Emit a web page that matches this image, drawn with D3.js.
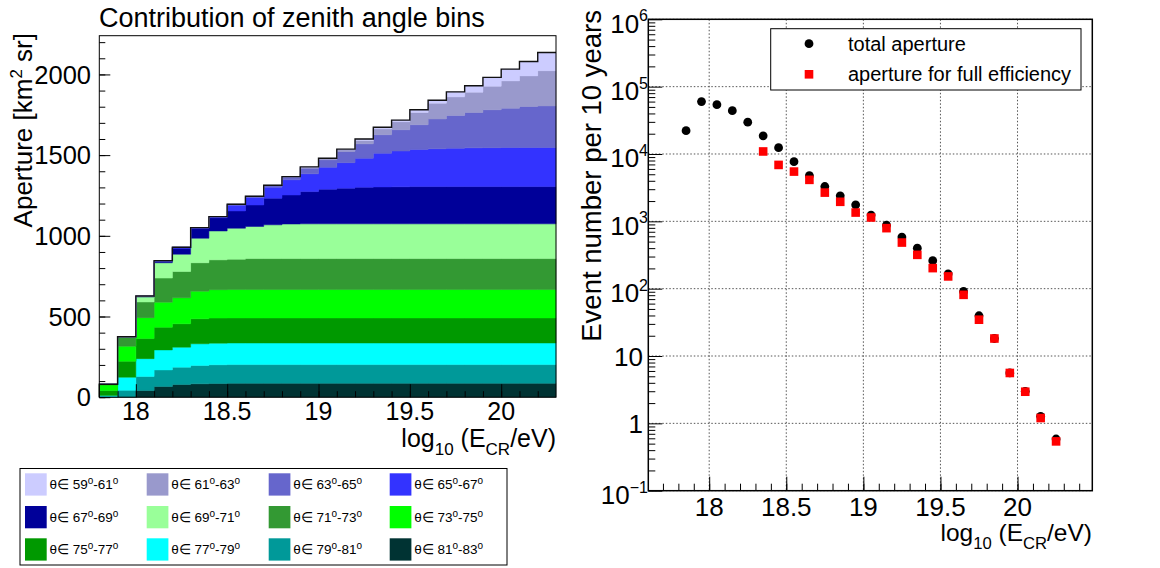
<!DOCTYPE html>
<html>
<head>
<meta charset="utf-8">
<script src="https://cdn.jsdelivr.net/npm/d3@7"></script>
<style>
  html, body { margin: 0; padding: 0; background: #fff; }
  svg { display: block; font-family: "Liberation Sans", Arial, Helvetica, sans-serif; }
</style>
</head>
<body>
<svg id="chart" width="1160" height="568"></svg>
<script>
// ---------------- DATA ----------------
// bin centres, log10(E/eV)
const logE = [17.85, 17.95, 18.05, 18.15, 18.25, 18.35, 18.45, 18.55, 18.65, 18.75,
              18.85, 18.95, 19.05, 19.15, 19.25, 19.35, 19.45, 19.55, 19.65, 19.75,
              19.85, 19.95, 20.05, 20.15, 20.25];

// Aperture contribution per zenith-angle bin [km^2 sr] (stack order: bottom -> top)
const ap81_83 = [1, 2, 42, 66, 79, 83, 85, 86, 86, 86, 86, 86, 86, 86, 86, 86, 86, 86, 86, 86, 86, 86, 86, 86, 86];
const ap79_81 = [3, 41, 87, 103, 107, 114, 116, 116, 116, 116, 116, 116, 116, 116, 116, 116, 116, 116, 116, 116, 116, 116, 116, 116, 116];
const ap77_79 = [6, 81, 110, 124, 124, 134, 134, 134, 134, 134, 134, 134, 134, 134, 134, 134, 134, 134, 134, 134, 134, 134, 134, 134, 134];
const ap75_77 = [32, 99, 124, 141, 145, 155, 155, 155, 155, 155, 155, 155, 155, 155, 155, 155, 155, 155, 155, 155, 155, 155, 155, 155, 155];
const ap73_75 = [33, 93, 130, 155, 161, 171, 176, 176, 176, 176, 176, 176, 176, 176, 176, 176, 176, 176, 176, 176, 176, 176, 176, 176, 176];
const ap71_73 = [5, 54, 97, 149, 163, 176, 185, 188, 192, 192, 192, 192, 192, 192, 192, 192, 192, 192, 192, 192, 192, 192, 192, 192, 192];
const ap69_71 = [0, 5, 31, 95, 107, 152, 179, 192, 199, 209, 214, 215, 215, 215, 215, 215, 215, 215, 215, 215, 215, 215, 215, 215, 215];
const ap67_69 = [0, 0, 6, 11, 37, 62, 82, 107, 133, 165, 180, 200, 215, 221, 227, 229, 230, 231, 231, 231, 231, 231, 231, 231, 231];
const ap65_67 = [0, 0, 0, 2, 6, 4, 6, 36, 46, 68, 94, 110, 136, 158, 180, 208, 221, 230, 234, 238, 240, 241, 242, 242, 242];
const ap63_65 = [0, 0, 0, 0, 0, 0, 1, 5, 7, 10, 17, 35, 46, 69, 89, 115, 132, 153, 185, 203, 219, 235, 244, 254, 258];
const ap61_63 = [0, 0, 0, 0, 0, 0, 0, 1, 1, 2, 3, 6, 8, 12, 20, 37, 50, 76, 98, 115, 126, 146, 169, 190, 218];
const ap59_61 = [0, 0, 0, 0, 0, 0, 0, 0, 0, 0, 0, 2, 2, 3, 10, 10, 10, 17, 18, 31, 40, 55, 73, 89, 113];

const zenithBins = ["59-61", "61-63", "63-65", "65-67", "67-69", "69-71",
                    "71-73", "73-75", "75-77", "77-79", "79-81", "81-83"];
const zenithColors = ["#ccccff", "#9999cc", "#6666cc", "#3333ff", "#000099", "#99ff99",
                      "#339933", "#00ff00", "#009900", "#00ffff", "#009999", "#003333"];

// Event number per 10 years
const totalApertureEvents = [22200, 60000, 54000, 44000, 29700, 18600, 12400, 7700, 4780, 3290,
                             2390, 1760, 1240, 878, 583, 400, 260, 166, 91, 39.6,
                             18.2, 5.6, 2.99, 1.27, 0.586];
const fullEffLogE = [18.35, 18.45, 18.55, 18.65, 18.75, 18.85, 18.95, 19.05, 19.15, 19.25,
                     19.35, 19.45, 19.55, 19.65, 19.75, 19.85, 19.95, 20.05, 20.15, 20.25];
const fullEffEvents = [10900, 6880, 5480, 4130, 2670, 1950, 1350, 1140, 792, 484,
                       318, 202, 152, 81, 34.6, 18.2, 5.6, 2.95, 1.2, 0.54];

const xMajorTicks = [18, 18.5, 19, 19.5, 20];
const xTickLabels = ["18", "18.5", "19", "19.5", "20"];
const apertureTicks = [0, 500, 1000, 1500, 2000];
const logTicks = [0.1, 1, 10, 100, 1000, 10000, 100000, 1000000];
const logTickExp = ["\u22121", null, null, "2", "3", "4", "5", "6"];

// ---------------- DRAW ----------------
const svg = d3.select("#chart");
const FONT = 25.5;

function subTitle(g, x, y, size) {
  const t = g.append("text").attr("x", x).attr("y", y).attr("text-anchor", "end")
    .attr("font-size", size).attr("fill", "#000");
  t.append("tspan").text("log");
  t.append("tspan").attr("dy", 8).attr("font-size", size * 0.68).text("10");
  t.append("tspan").attr("dy", -8).text(" (E");
  t.append("tspan").attr("dy", 8).attr("font-size", size * 0.68).text("CR");
  t.append("tspan").attr("dy", -8).text("/eV)");
}

// ===== LEFT: stacked aperture =====
const xL = d3.scaleLinear().domain([17.8, 20.3]).range([99.3, 556]);
const yL = d3.scaleLinear().domain([0, 2240]).range([397.2, 35.7]);
const gL = svg.append("g");

const layerArrays = [ap81_83, ap79_81, ap77_79, ap75_77, ap73_75, ap71_73,
                     ap69_71, ap67_69, ap65_67, ap63_65, ap61_63, ap59_61];
const keys = zenithBins.slice().reverse(); // bottom -> top
const colorOf = {};
zenithBins.forEach((k, i) => colorOf[k] = zenithColors[i]);
const rows = logE.map((e, i) => {
  const r = { e };
  keys.forEach((k, j) => r[k] = layerArrays[j][i]);
  return r;
});
const series = d3.stack().keys(keys)(rows);
const halfBin = 0.05;
const stepArea = d3.area().x(d => xL(d.x)).y0(d => yL(d.y0)).y1(d => yL(d.y1));
series.forEach(s => {
  const pts = [];
  s.forEach(d => {
    pts.push({ x: d.data.e - halfBin, y0: d[0], y1: d[1] });
    pts.push({ x: d.data.e + halfBin, y0: d[0], y1: d[1] });
  });
  gL.append("path").attr("d", stepArea(pts)).attr("fill", colorOf[s.key])
    .attr("stroke", colorOf[s.key]).attr("stroke-width", 0.5);
});
// total outline
const topSeries = series[series.length - 1];
const outline = [{ x: logE[0] - halfBin, y: 0 }];
topSeries.forEach(d => {
  outline.push({ x: d.data.e - halfBin, y: d[1] });
  outline.push({ x: d.data.e + halfBin, y: d[1] });
});
gL.append("path").attr("d", d3.line().x(d => xL(d.x)).y(d => yL(d.y))(outline))
  .attr("fill", "none").attr("stroke", "#111").attr("stroke-width", 1.4);

// axes (ticks inward)
const xMinorL = d3.range(179, 203).map(v => v / 10);
gL.append("g").attr("transform", `translate(0,${yL(0)})`)
  .call(d3.axisBottom(xL).tickValues(xMinorL).tickSize(-6).tickFormat(""))
  .call(g => g.select(".domain").remove());
gL.append("g").attr("transform", `translate(0,${yL(0)})`)
  .call(d3.axisBottom(xL).tickValues(xMajorTicks).tickSize(-13).tickFormat(""))
  .call(g => g.select(".domain").remove());
const yMinorL = d3.range(0, 2300, 100);
gL.append("g").attr("transform", `translate(${xL(17.8)},0)`)
  .call(d3.axisLeft(yL).tickValues(yMinorL).tickSize(-6).tickFormat(""))
  .call(g => g.select(".domain").remove());
gL.append("g").attr("transform", `translate(${xL(17.8)},0)`)
  .call(d3.axisLeft(yL).tickValues(apertureTicks).tickSize(-11).tickFormat(""))
  .call(g => g.select(".domain").remove());
gL.selectAll(".tick line").attr("stroke", "#000");

gL.append("rect").attr("x", xL(17.8)).attr("y", yL(2240))
  .attr("width", xL(20.3) - xL(17.8)).attr("height", yL(0) - yL(2240))
  .attr("fill", "none").attr("stroke", "#000").attr("stroke-width", 1);

// tick labels
gL.selectAll(".xl").data(xMajorTicks).enter().append("text")
  .attr("x", d => xL(d)).attr("y", 420).attr("text-anchor", "middle")
  .attr("font-size", 25).text((d, i) => xTickLabels[i]);
gL.selectAll(".yl").data(apertureTicks).enter().append("text")
  .attr("x", 91).attr("y", d => yL(d)).attr("dy", "0.36em").attr("text-anchor", "end")
  .attr("font-size", FONT).text(d => d);

subTitle(gL, 556, 446.5, 25);

// y title
const yt = gL.append("text").attr("transform", "translate(32,33) rotate(-90)")
  .attr("text-anchor", "end").attr("font-size", 26);
yt.append("tspan").text("Aperture [km");
yt.append("tspan").attr("dy", -10).attr("font-size", 17).text("2");
yt.append("tspan").attr("dy", 10).text(" sr]");

// title
gL.append("text").attr("x", 99).attr("y", 26.5)
  .attr("font-size", 27).text("Contribution of zenith angle bins");

// legend
const lg = svg.append("g");
lg.append("rect").attr("x", 20).attr("y", 468.5).attr("width", 487).attr("height", 96.5)
  .attr("fill", "#fff").attr("stroke", "#000").attr("stroke-width", 1);
const colX = [25, 146.7, 268.7, 389.7];
const rowY = [473.3, 506, 538.3];
zenithBins.forEach((b, i) => {
  const cx = colX[i % 4], ry = rowY[Math.floor(i / 4)];
  lg.append("rect").attr("x", cx).attr("y", ry).attr("width", 21.7).attr("height", 22.3)
    .attr("fill", zenithColors[i]);
  const [a, c] = b.split("-");
  const t = lg.append("text").attr("x", cx + 24.5).attr("y", ry + 16).attr("font-size", 13.5);
  t.append("tspan").text("\u03b8\u2208 " + a);
  t.append("tspan").attr("dy", -5).attr("font-size", 10).text("o");
  t.append("tspan").attr("dy", 5).text("-" + c);
  t.append("tspan").attr("dy", -5).attr("font-size", 10).text("o");
});

// ===== RIGHT: event numbers =====
const xR = d3.scaleLinear().domain([17.605, 20.485]).range([648.3, 1092.3]);
const yR = d3.scaleLog().domain([0.1, 1e6]).range([490.7, 19.3]);
const gR = svg.append("g");

// grid
gR.selectAll(".gx").data(xMajorTicks).enter().append("line")
  .attr("x1", d => xR(d)).attr("x2", d => xR(d)).attr("y1", yR(1e6)).attr("y2", yR(0.1))
  .attr("stroke", "#555").attr("stroke-width", 1).attr("stroke-dasharray", "1.5,2");
gR.selectAll(".gy").data(logTicks).enter().append("line")
  .attr("x1", xR(17.605)).attr("x2", xR(20.485)).attr("y1", d => yR(d)).attr("y2", d => yR(d))
  .attr("stroke", "#555").attr("stroke-width", 1).attr("stroke-dasharray", "1.5,2");

// ticks
const xMinorR = d3.range(177, 205).map(v => v / 10);
gR.append("g").attr("transform", `translate(0,${yR(0.1)})`)
  .call(d3.axisBottom(xR).tickValues(xMinorR).tickSize(-7).tickFormat(""))
  .call(g => g.select(".domain").remove());
gR.append("g").attr("transform", `translate(0,${yR(0.1)})`)
  .call(d3.axisBottom(xR).tickValues(xMajorTicks).tickSize(-14).tickFormat(""))
  .call(g => g.select(".domain").remove());
const yMinorR = [];
for (let p = -1; p < 6; p++) for (let k = 2; k <= 9; k++) yMinorR.push(k * Math.pow(10, p));
gR.append("g").attr("transform", `translate(${xR(17.605)},0)`)
  .call(d3.axisLeft(yR).tickValues(yMinorR).tickSize(-7).tickFormat(""))
  .call(g => g.select(".domain").remove());
gR.append("g").attr("transform", `translate(${xR(17.605)},0)`)
  .call(d3.axisLeft(yR).tickValues(logTicks).tickSize(-14).tickFormat(""))
  .call(g => g.select(".domain").remove());
gR.selectAll(".tick line").attr("stroke", "#000");

gR.append("rect").attr("x", xR(17.605)).attr("y", yR(1e6))
  .attr("width", xR(20.485) - xR(17.605)).attr("height", yR(0.1) - yR(1e6))
  .attr("fill", "none").attr("stroke", "#000").attr("stroke-width", 1.5);

// tick labels
gR.selectAll(".xr").data(xMajorTicks).enter().append("text")
  .attr("x", d => xR(d)).attr("y", 516).attr("text-anchor", "middle")
  .attr("font-size", 26).text((d, i) => xTickLabels[i]);
logTicks.forEach((v, i) => {
  const hasExp = !!logTickExp[i];
  const t = gR.append("text").attr("x", hasExp ? 648 : 643)
    .attr("y", yR(v) + (hasExp ? 13.5 : 10))
    .attr("text-anchor", "end").attr("font-size", 26);
  t.append("tspan").text(hasExp ? "10" : String(v));
  if (hasExp) t.append("tspan").attr("dy", -11.6).attr("font-size", 16).text(logTickExp[i]);
});

subTitle(gR, 1092, 541, 24.5);

gR.append("text").attr("transform", "translate(601,10) rotate(-90)")
  .attr("text-anchor", "end").attr("font-size", 27.5).text("Event number per 10 years");

// points
gR.selectAll(".tot").data(totalApertureEvents).enter().append("circle")
  .attr("cx", (d, i) => xR(logE[i])).attr("cy", d => yR(d)).attr("r", 4.4).attr("fill", "#000");
const sq = 8.6;
gR.selectAll(".eff").data(fullEffEvents).enter().append("rect")
  .attr("x", (d, i) => xR(fullEffLogE[i]) - sq / 2).attr("y", d => yR(d) - sq / 2)
  .attr("width", sq).attr("height", sq).attr("fill", "#ff0000");

// legend
const lr = gR.append("g");
lr.append("rect").attr("x", 770.7).attr("y", 28.7).attr("width", 310.3).attr("height", 61.3)
  .attr("fill", "#fff").attr("stroke", "#000").attr("stroke-width", 1);
lr.append("circle").attr("cx", 809).attr("cy", 43.7).attr("r", 4.4).attr("fill", "#000");
lr.append("rect").attr("x", 809 - sq / 2).attr("y", 74.3 - sq / 2).attr("width", sq).attr("height", sq).attr("fill", "#ff0000");
lr.append("text").attr("x", 848).attr("y", 51).attr("font-size", 20).text("total aperture");
lr.append("text").attr("x", 848).attr("y", 81).attr("font-size", 20).text("aperture for full efficiency");
</script>
</body>
</html>
